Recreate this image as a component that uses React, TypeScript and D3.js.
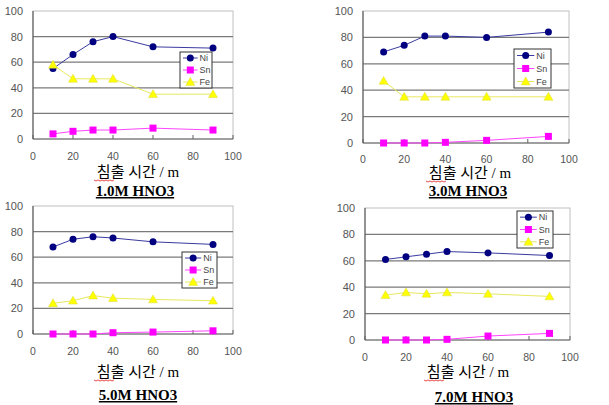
import React from "react";
import * as d3 from "d3";

const times = [10, 20, 30, 40, 60, 90];
const seriesNames = ["Ni", "Sn", "Fe"];
const xTicks = [0, 20, 40, 60, 80, 100];
const yTicks = [0, 20, 40, 60, 80, 100];
const panelTitles = ["1.0M HNO3", "3.0M HNO3", "5.0M HNO3", "7.0M HNO3"];
const axisTitle = "침출 시간 / m";

const ni1 = [55, 66, 76, 80, 72, 71];
const sn1 = [4, 6, 7, 7, 8.5, 7];
const fe1 = [58, 47, 47, 47, 35, 35];

const ni3 = [69, 74, 81, 81, 80, 84];
const sn3 = [0, 0, 0, 0.5, 2, 5];
const fe3 = [47, 35, 35, 35, 35, 35];

const ni5 = [68, 74, 76, 75, 72, 70];
const sn5 = [0, 0, 0, 1, 1.5, 2.5];
const fe5 = [24, 26, 30, 28, 27, 26];

const ni7 = [61, 63, 65, 67, 66, 64];
const sn7 = [0, 0, 0, 0.5, 3, 5];
const fe7 = [34, 36, 35, 36, 35, 33];

const panelData = [
  [ni1, sn1, fe1],
  [ni3, sn3, fe3],
  [ni5, sn5, fe5],
  [ni7, sn7, fe7],
];

const layouts = [
  { l: 33, r: 233, t: 11, b: 139, tickY: 159.5, t1Y: 177, t1X: 138, t2Y: 196, t2X: 135, lg: { x: 180, y: 52, w: 32, h: 36 } },
  { l: 363, r: 569, t: 11, b: 143, tickY: 162.5, t1Y: 178, t1X: 470, t2Y: 196, t2X: 468, lg: { x: 514, y: 49, w: 37, h: 39 } },
  { l: 33, r: 233, t: 206, b: 334, tickY: 355, t1Y: 377, t1X: 138, t2Y: 400, t2X: 138, lg: { x: 182, y: 252, w: 35, h: 36 } },
  { l: 365, r: 570, t: 208, b: 340, tickY: 361, t1Y: 377, t1X: 468, t2Y: 402, t2X: 474, lg: { x: 517, y: 211, w: 36, h: 37 } },
];

const markerFill = ["#000080", "#ff00ff", "#ffff00"];
const lineColor = ["#3a3aa0", "#ff44ff", "#e8e860"];

function Marker({ kind, x, y }: { kind: number; x: number; y: number }) {
  if (kind === 0) return <circle cx={x} cy={y} r={3.5} fill={markerFill[0]} />;
  if (kind === 1) return <rect x={x - 3.5} y={y - 3.5} width={7} height={7} fill={markerFill[1]} />;
  const s = 4.5;
  return (
    <path
      d={`M${x},${y - s} L${x + s},${y + s * 0.75} L${x - s},${y + s * 0.75} Z`}
      fill={markerFill[2]}
      stroke="#d8d840"
      strokeWidth={0.5}
    />
  );
}

function Panel({ idx }: { idx: number }) {
  const L = layouts[idx];
  const data = panelData[idx];
  const x = d3.scaleLinear().domain([0, 100]).range([L.l, L.r]);
  const y = d3.scaleLinear().domain([0, 100]).range([L.b, L.t]);
  const line = d3
    .line<number>()
    .x((_, i) => x(times[i]))
    .y((d) => y(d));
  return (
    <g>
      <rect x={L.l} y={L.t} width={L.r - L.l} height={L.b - L.t} fill="#fff" stroke="#c0c0c0" strokeWidth={1} />
      {yTicks.filter((v) => v > 0 && v < 100).map((v) => (
        <line key={v} x1={L.l} x2={L.r} y1={y(v)} y2={y(v)} stroke="#7a7a7a" strokeWidth={1.2} />
      ))}
      <line x1={L.l} x2={L.l} y1={L.t} y2={L.b} stroke="#606060" strokeWidth={1.2} />
      <line x1={L.l} x2={L.r} y1={L.b} y2={L.b} stroke="#606060" strokeWidth={1.2} />
      {xTicks.map((v) => (
        <line key={"xt" + v} x1={x(v)} x2={x(v)} y1={L.b} y2={L.b - 4} stroke="#606060" strokeWidth={1} />
      ))}
      {yTicks.map((v) => (
        <text key={"yl" + v} x={L.l - 10} y={y(v) + 4} textAnchor="end" fontSize={11} fill="#555" fontFamily="Liberation Sans, Arial, sans-serif">
          {v}
        </text>
      ))}
      {xTicks.map((v) => (
        <text key={"xl" + v} x={x(v)} y={L.tickY} textAnchor="middle" fontSize={10.5} fill="#555" fontFamily="Liberation Sans, Arial, sans-serif">
          {v}
        </text>
      ))}
      {data.map((s, si) => (
        <path key={"ln" + si} d={line(s) || ""} fill="none" stroke={lineColor[si]} strokeWidth={1} />
      ))}
      {data.map((s, si) =>
        s.map((v, i) => <Marker key={"m" + si + "-" + i} kind={si} x={x(times[i])} y={y(v)} />)
      )}
      <g>
        <rect x={L.lg.x} y={L.lg.y} width={L.lg.w} height={L.lg.h} fill="#fff" stroke="#333" strokeWidth={1} />
        {seriesNames.map((n, i) => {
          const rowY = L.lg.y + (L.lg.h / 3) * (i + 0.5);
          const lx1 = L.lg.x + 3;
          const lx2 = L.lg.x + L.lg.w * 0.55;
          return (
            <g key={n}>
              <line x1={lx1} x2={lx2} y1={rowY} y2={rowY} stroke={lineColor[i]} strokeWidth={1} />
              <Marker kind={i} x={(lx1 + lx2) / 2} y={rowY} />
              <text x={lx2 + 2} y={rowY + 3} fontSize={9} fill="#444" fontFamily="Liberation Sans, Arial, sans-serif">
                {n}
              </text>
            </g>
          );
        })}
      </g>
      <text x={L.t1X} y={L.t1Y} textAnchor="middle" fontSize={15} fill="#000" fontFamily="Liberation Serif, Noto Sans CJK KR, serif">
        {axisTitle}
      </text>
      <path
        d={d3.range(0, 22, 2).map((d, i) => `${i === 0 ? "M" : "L"}${L.t1X - 44 + d},${L.t1Y + 3 + (i % 2 ? 1 : 0)}`).join(" ")}
        fill="none"
        stroke="#e02020"
        strokeWidth={0.8}
      />
      <text x={L.t2X} y={L.t2Y} textAnchor="middle" fontSize={15} fontWeight="bold" fill="#000" textDecoration="underline" fontFamily="Liberation Serif, Times New Roman, serif">
        {panelTitles[idx]}
      </text>
    </g>
  );
}

export default function App() {
  return (
    <svg width={609} height={405} style={{ position: "absolute", left: 0, top: 0, background: "#fff" }}>
      <rect width={609} height={405} fill="#fff" />
      {[0, 1, 2, 3].map((i) => (
        <Panel key={i} idx={i} />
      ))}
    </svg>
  );
}
